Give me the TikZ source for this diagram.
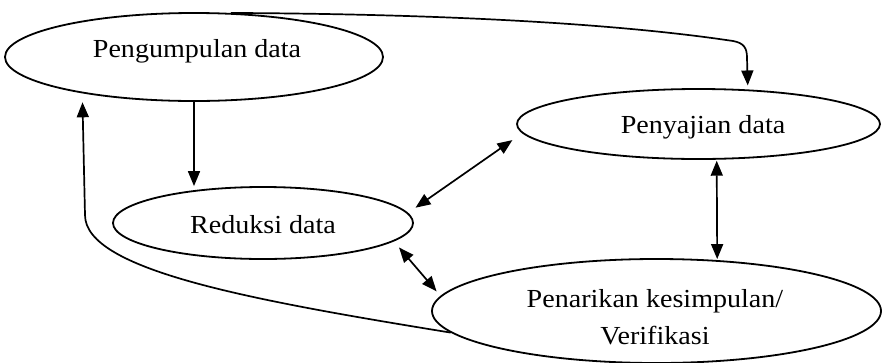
\documentclass[tikz,border=0pt]{standalone}
\usepackage{fontspec}
\setmainfont{Liberation Serif}[FakeStretch=1.08]
\usetikzlibrary{shapes.geometric,arrows.meta}
\begin{document}
\begin{tikzpicture}[x=1pt,y=-1pt,
  ell/.style={draw,line width=1.8pt,ellipse,inner sep=0pt},
  lbl/.style={anchor=base,inner sep=0pt,font=\fontsize{26}{37}\selectfont,align=center},
  conn/.style={line width=1.7pt,-{Triangle[length=15pt,width=12pt]}},
  dconn/.style={line width=1.7pt,{Triangle[length=15pt,width=12pt]}-{Triangle[length=15pt,width=12pt]}}]
\useasboundingbox (0,0) rectangle (882,362);
\node[ell,minimum width=378pt,minimum height=88pt] (peng) at (194,57) {};
\node[ell,minimum width=363pt,minimum height=70pt] (penyaj) at (698.5,124) {};
\node[ell,minimum width=300pt,minimum height=72pt] (reduk) at (263,223) {};
\node[ell,minimum width=449pt,minimum height=104pt] (penar) at (656.5,311) {};
\node[lbl] (tpeng) at (197,57) {Pengumpulan data};
\node[lbl] (tpenyaj) at (703,133) {Penyajian data};
\node[lbl] (treduk) at (263,233) {Reduksi data};
\node[lbl] (tpenar) at (655,344) {Penarikan kesimpulan/\\Verifikasi};
% connectors
\draw[conn] (peng.south) -- (peng.south |- reduk.north);
\draw[conn,shorten >=4pt] (peng.50) .. controls (450,14) and (620,24) .. (733,41)
   .. controls (744,43) and (747,48) .. (747,58) -- (penyaj.35);
\draw[conn,shorten >=9pt] (penar.186) .. controls (250,300) and (85,270) .. (85,215) -- (peng.198);
\draw[dconn,shorten <=9pt,shorten >=12pt] (reduk.4) -- (penyaj.183);
\draw[dconn,shorten <=8pt,shorten >=6pt] (reduk.352) -- (penar.176);
\draw[dconn,shorten <=1pt,shorten >=1pt] (penyaj.297) -- (penar.40);
\end{tikzpicture}
\end{document}
